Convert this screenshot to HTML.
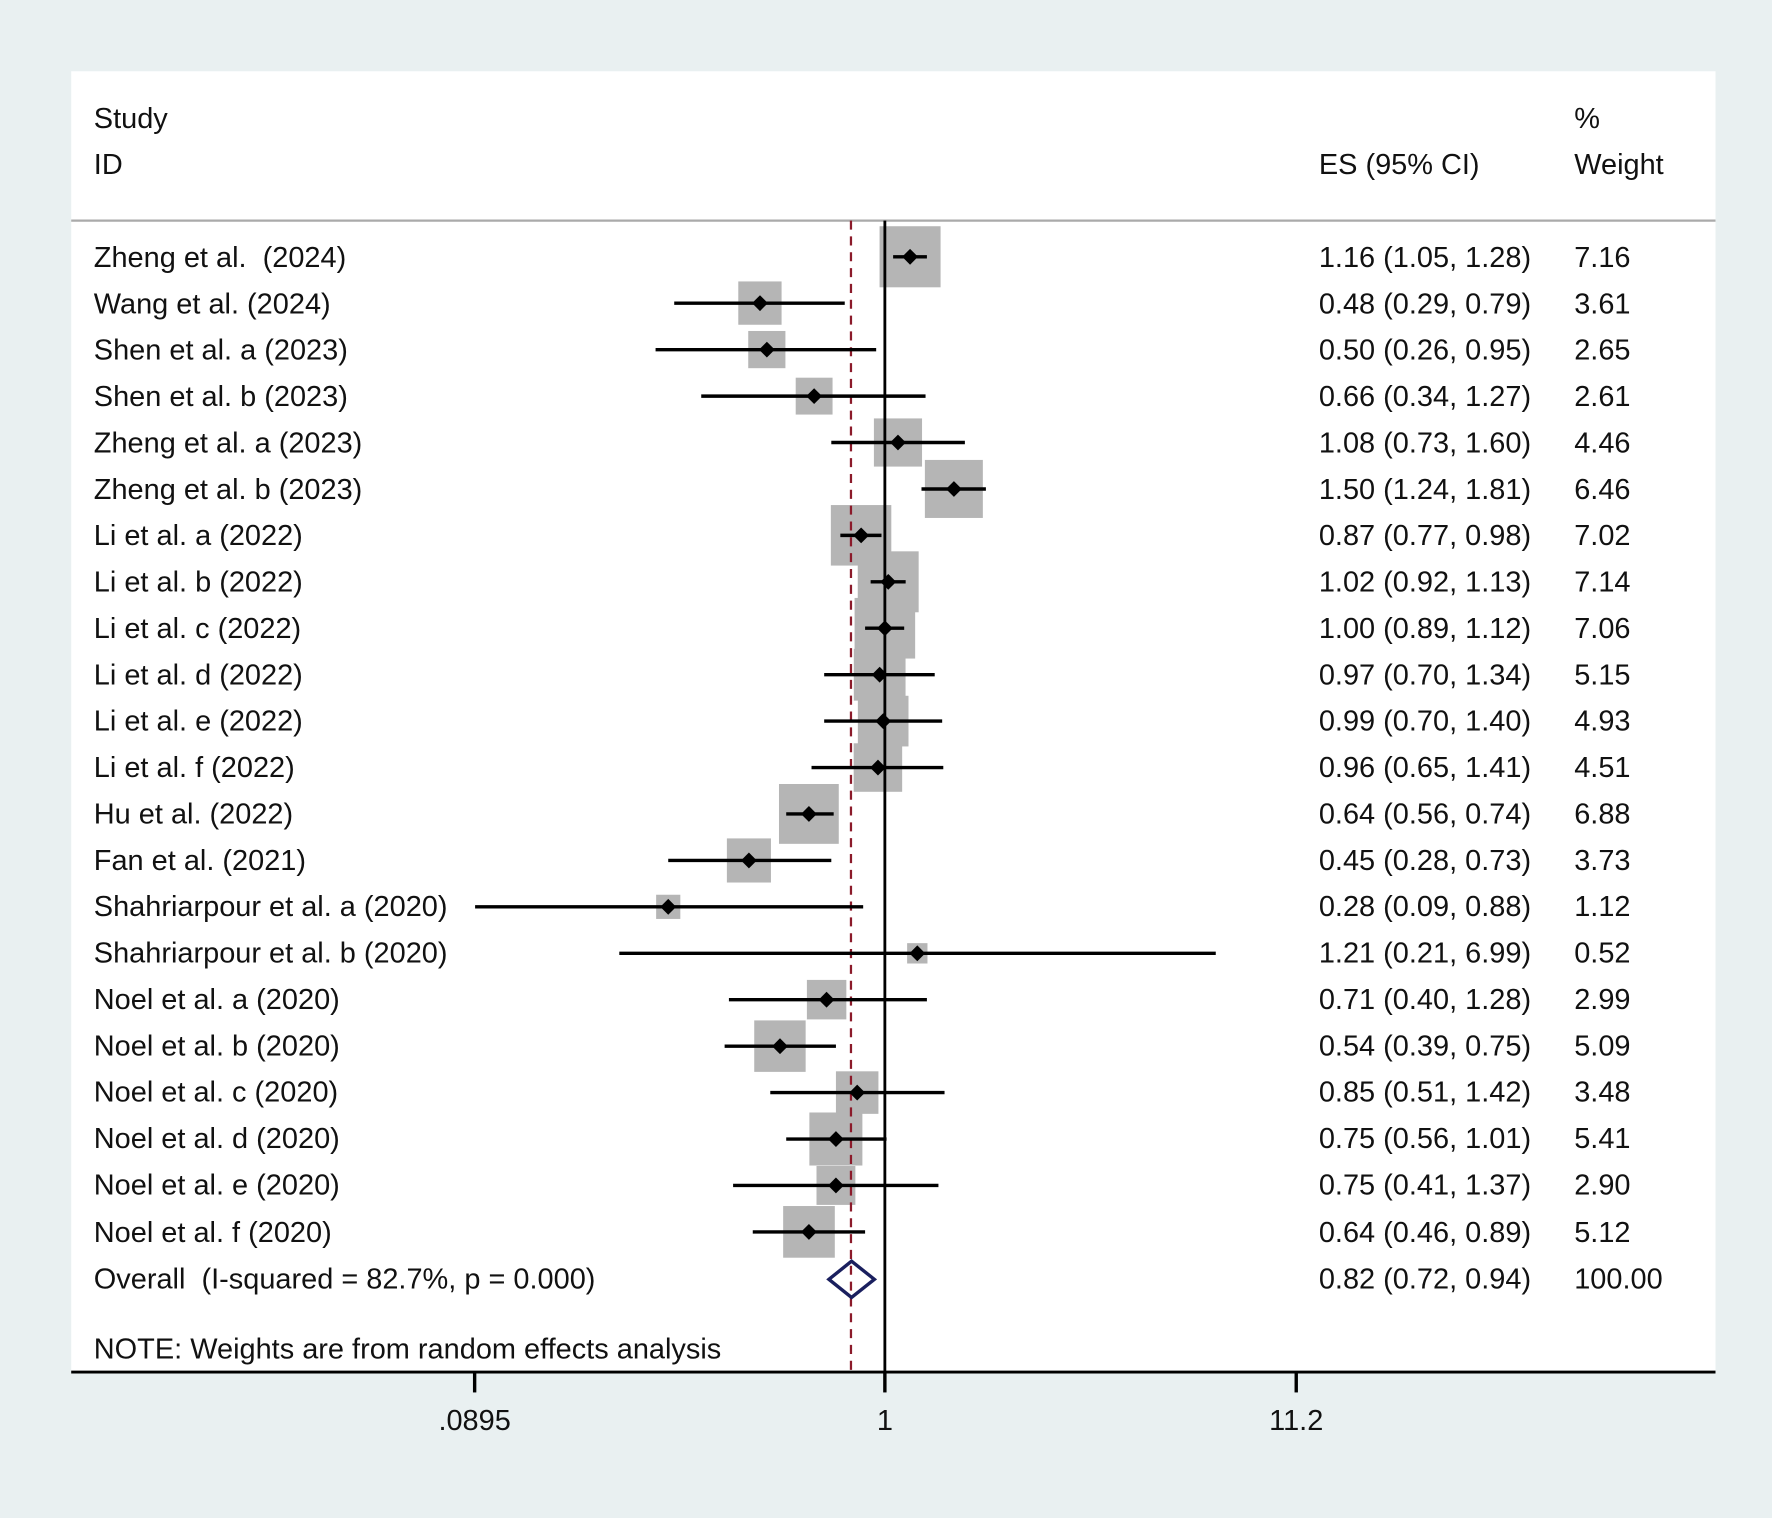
<!DOCTYPE html>
<html><head><meta charset="utf-8"><style>
html,body{margin:0;padding:0;background:#e9f0f1;}
svg{display:block}
text{font-family:"Liberation Sans",sans-serif;font-size:25.6px;fill:#111;white-space:pre}
</style></head><body>
<svg width="1772" height="1518" viewBox="0 0 1568 1342" preserveAspectRatio="none" xml:space="preserve">
<rect x="0" y="0" width="1568" height="1342" fill="#e9f0f1"/>
<rect x="63" y="63" width="1455" height="1150" fill="#fff"/>
<line x1="63" y1="195" x2="1518" y2="195" stroke="#aaa" stroke-width="2"/>
<text x="83" y="113">Study</text><text x="83" y="154">ID</text>
<text x="1393" y="113">%</text><text x="1167" y="154">ES (95% CI)</text><text x="1393" y="154">Weight</text>
<g fill="#b5b5b5">
<rect x="778.3" y="200" width="54" height="54"/>
<rect x="653.3" y="248.8" width="38.3" height="38.3"/>
<rect x="662.1" y="292.6" width="32.9" height="32.9"/>
<rect x="704.1" y="333.9" width="32.6" height="32.6"/>
<rect x="773.3" y="369.9" width="42.6" height="42.6"/>
<rect x="818.4" y="406.6" width="51.3" height="51.3"/>
<rect x="735.2" y="446.5" width="53.5" height="53.5"/>
<rect x="759" y="487.4" width="53.9" height="53.9"/>
<rect x="756.2" y="528.6" width="53.6" height="53.6"/>
<rect x="755.5" y="573.6" width="45.8" height="45.8"/>
<rect x="759.1" y="615.1" width="44.8" height="44.8"/>
<rect x="755.4" y="657.1" width="42.9" height="42.9"/>
<rect x="689.3" y="693.1" width="52.9" height="52.9"/>
<rect x="643.2" y="741.2" width="39" height="39"/>
<rect x="580.6" y="791" width="21.4" height="21.4"/>
<rect x="802.7" y="833.8" width="18" height="18"/>
<rect x="714" y="866.3" width="34.9" height="34.9"/>
<rect x="667.4" y="902.1" width="45.5" height="45.5"/>
<rect x="739.7" y="947.1" width="37.6" height="37.6"/>
<rect x="716.2" y="983.5" width="46.9" height="46.9"/>
<rect x="722.5" y="1030.8" width="34.4" height="34.4"/>
<rect x="693" y="1066.2" width="45.7" height="45.7"/>
</g>
<line x1="783" y1="195" x2="783" y2="1213" stroke="#000" stroke-width="2.5"/>
<line x1="753" y1="195" x2="753" y2="1213" stroke="#8b1a2a" stroke-width="2" stroke-dasharray="8,6"/>
<g stroke="#000" stroke-width="3">
<line x1="790.3" y1="227" x2="820.2" y2="227"/>
<line x1="596.6" y1="268" x2="747.5" y2="268"/>
<line x1="580.1" y1="309.1" x2="775.3" y2="309.1"/>
<line x1="620.5" y1="350.2" x2="819" y2="350.2"/>
<line x1="735.6" y1="391.2" x2="853.8" y2="391.2"/>
<line x1="815.4" y1="432.3" x2="872.4" y2="432.3"/>
<line x1="743.6" y1="473.3" x2="780" y2="473.3"/>
<line x1="770.4" y1="514.4" x2="801.4" y2="514.4"/>
<line x1="765.5" y1="555.4" x2="800.1" y2="555.4"/>
<line x1="729.3" y1="596.5" x2="827.1" y2="596.5"/>
<line x1="729.3" y1="637.5" x2="833.7" y2="637.5"/>
<line x1="718.1" y1="678.6" x2="834.7" y2="678.6"/>
<line x1="695.7" y1="719.6" x2="737.7" y2="719.6"/>
<line x1="591.3" y1="760.7" x2="735.6" y2="760.7"/>
<line x1="420.4" y1="801.7" x2="763.8" y2="801.7"/>
<line x1="548" y1="842.8" x2="1075.8" y2="842.8"/>
<line x1="645" y1="883.8" x2="820.2" y2="883.8"/>
<line x1="641.2" y1="924.9" x2="739.7" y2="924.9"/>
<line x1="681.6" y1="965.9" x2="835.8" y2="965.9"/>
<line x1="695.7" y1="1007" x2="784.5" y2="1007"/>
<line x1="648.7" y1="1048" x2="830.4" y2="1048"/>
<line x1="666.1" y1="1089.1" x2="765.5" y2="1089.1"/>
</g>
<g fill="#000">
<path d="M805.3 220l7 7-7 7-7-7z"/>
<path d="M672.5 261l7 7-7 7-7-7z"/>
<path d="M678.6 302.1l7 7-7 7-7-7z"/>
<path d="M720.4 343.2l7 7-7 7-7-7z"/>
<path d="M794.6 384.2l7 7-7 7-7-7z"/>
<path d="M844.1 425.3l7 7-7 7-7-7z"/>
<path d="M762 466.3l7 7-7 7-7-7z"/>
<path d="M786 507.4l7 7-7 7-7-7z"/>
<path d="M783 548.4l7 7-7 7-7-7z"/>
<path d="M778.4 589.5l7 7-7 7-7-7z"/>
<path d="M781.5 630.5l7 7-7 7-7-7z"/>
<path d="M776.9 671.6l7 7-7 7-7-7z"/>
<path d="M715.8 712.6l7 7-7 7-7-7z"/>
<path d="M662.7 753.7l7 7-7 7-7-7z"/>
<path d="M591.3 794.7l7 7-7 7-7-7z"/>
<path d="M811.7 835.8l7 7-7 7-7-7z"/>
<path d="M731.4 876.8l7 7-7 7-7-7z"/>
<path d="M690.2 917.9l7 7-7 7-7-7z"/>
<path d="M758.5 958.9l7 7-7 7-7-7z"/>
<path d="M739.7 1000l7 7-7 7-7-7z"/>
<path d="M739.7 1041l7 7-7 7-7-7z"/>
<path d="M715.8 1082.1l7 7-7 7-7-7z"/>
</g>
<path d="M733.5 1131L753.5 1115 773.7 1131 753.5 1147z" fill="none" stroke="#1a1f5e" stroke-width="3"/>
<g>
<text x="83" y="236">Zheng et al.  (2024)</text><text x="1167" y="236">1.16 (1.05, 1.28)</text><text x="1393" y="236">7.16</text>
<text x="83" y="277">Wang et al. (2024)</text><text x="1167" y="277">0.48 (0.29, 0.79)</text><text x="1393" y="277">3.61</text>
<text x="83" y="318">Shen et al. a (2023)</text><text x="1167" y="318">0.50 (0.26, 0.95)</text><text x="1393" y="318">2.65</text>
<text x="83" y="359">Shen et al. b (2023)</text><text x="1167" y="359">0.66 (0.34, 1.27)</text><text x="1393" y="359">2.61</text>
<text x="83" y="400">Zheng et al. a (2023)</text><text x="1167" y="400">1.08 (0.73, 1.60)</text><text x="1393" y="400">4.46</text>
<text x="83" y="441">Zheng et al. b (2023)</text><text x="1167" y="441">1.50 (1.24, 1.81)</text><text x="1393" y="441">6.46</text>
<text x="83" y="482">Li et al. a (2022)</text><text x="1167" y="482">0.87 (0.77, 0.98)</text><text x="1393" y="482">7.02</text>
<text x="83" y="523">Li et al. b (2022)</text><text x="1167" y="523">1.02 (0.92, 1.13)</text><text x="1393" y="523">7.14</text>
<text x="83" y="564">Li et al. c (2022)</text><text x="1167" y="564">1.00 (0.89, 1.12)</text><text x="1393" y="564">7.06</text>
<text x="83" y="605">Li et al. d (2022)</text><text x="1167" y="605">0.97 (0.70, 1.34)</text><text x="1393" y="605">5.15</text>
<text x="83" y="646">Li et al. e (2022)</text><text x="1167" y="646">0.99 (0.70, 1.40)</text><text x="1393" y="646">4.93</text>
<text x="83" y="687">Li et al. f (2022)</text><text x="1167" y="687">0.96 (0.65, 1.41)</text><text x="1393" y="687">4.51</text>
<text x="83" y="728">Hu et al. (2022)</text><text x="1167" y="728">0.64 (0.56, 0.74)</text><text x="1393" y="728">6.88</text>
<text x="83" y="769">Fan et al. (2021)</text><text x="1167" y="769">0.45 (0.28, 0.73)</text><text x="1393" y="769">3.73</text>
<text x="83" y="810">Shahriarpour et al. a (2020)</text><text x="1167" y="810">0.28 (0.09, 0.88)</text><text x="1393" y="810">1.12</text>
<text x="83" y="851">Shahriarpour et al. b (2020)</text><text x="1167" y="851">1.21 (0.21, 6.99)</text><text x="1393" y="851">0.52</text>
<text x="83" y="892">Noel et al. a (2020)</text><text x="1167" y="892">0.71 (0.40, 1.28)</text><text x="1393" y="892">2.99</text>
<text x="83" y="933">Noel et al. b (2020)</text><text x="1167" y="933">0.54 (0.39, 0.75)</text><text x="1393" y="933">5.09</text>
<text x="83" y="974">Noel et al. c (2020)</text><text x="1167" y="974">0.85 (0.51, 1.42)</text><text x="1393" y="974">3.48</text>
<text x="83" y="1015">Noel et al. d (2020)</text><text x="1167" y="1015">0.75 (0.56, 1.01)</text><text x="1393" y="1015">5.41</text>
<text x="83" y="1056">Noel et al. e (2020)</text><text x="1167" y="1056">0.75 (0.41, 1.37)</text><text x="1393" y="1056">2.90</text>
<text x="83" y="1098">Noel et al. f (2020)</text><text x="1167" y="1098">0.64 (0.46, 0.89)</text><text x="1393" y="1098">5.12</text>
<text x="83" y="1139">Overall  (I-squared = 82.7%, p = 0.000)</text><text x="1167" y="1139">0.82 (0.72, 0.94)</text><text x="1393" y="1139">100.00</text>
<text x="83" y="1201">NOTE: Weights are from random effects analysis</text>
</g>
<line x1="63" y1="1213" x2="1518" y2="1213" stroke="#000" stroke-width="2.5"/>
<g stroke="#000" stroke-width="3">
<line x1="420" y1="1213" x2="420" y2="1231"/>
<line x1="783" y1="1213" x2="783" y2="1231"/>
<line x1="1147" y1="1213" x2="1147" y2="1231"/>
</g>
<text x="420" y="1264" text-anchor="middle">.0895</text>
<text x="783" y="1264" text-anchor="middle">1</text>
<text x="1147" y="1264" text-anchor="middle">11.2</text>
</svg>
</body></html>
